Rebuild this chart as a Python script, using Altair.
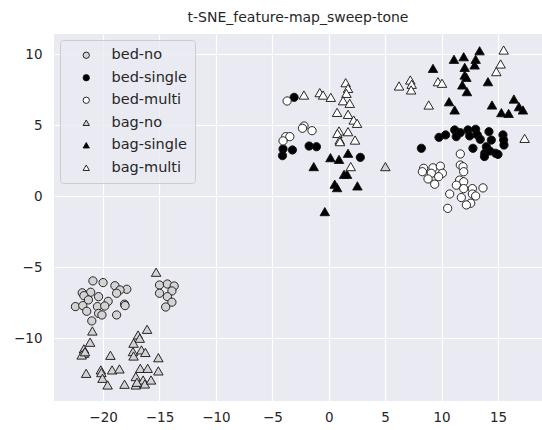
import altair as alt
import pandas as pd

# ---- data ----
bed_no_x = [-20.9, -20.0, -18.95, -17.9, -18.5, -21.85, -21.1, -21.7, -20.4, -21.3, -19.55, -18.8,
            -22.45, -21.8, -20.5, -19.85, -18.1, -18.05, -21.45, -20.4, -20.1, -18.8, -21.0,
            -15.0, -14.3, -13.7, -15.0, -13.9, -14.3, -13.9, -14.45]
bed_no_y = [-5.96, -6.08, -6.3, -6.55, -6.6, -6.8, -6.76, -7.0, -7.07, -7.3, -7.4, -6.83,
            -7.77, -7.7, -7.77, -7.73, -7.6, -7.7, -8.1, -8.25, -8.36, -8.36, -8.78,
            -6.25, -6.18, -6.32, -6.83, -6.67, -7.07, -7.46, -7.8]

bed_single_x = [-3.07, -4.05, -3.22, -4.1, -1.74, -1.09, 2.8,
                8.21, 9.77, 10.36, 11.16, 11.3, 11.66, 12.34, 12.49, 13.02, 13.17, 13.43, 14.2,
                14.41, 15.44, 15.5, 15.53, 12.78, 13.97, 13.83, 14.27, 14.79, 15.0, 13.8]
bed_single_y = [6.97, 3.33, 3.26, 2.86, 3.54, 3.49, 2.74,
                3.38, 4.15, 4.32, 4.67, 4.2, 4.48, 4.67, 4.25, 4.72, 4.32, 4.01, 4.55,
                3.96, 4.32, 3.96, 3.61, 3.38, 3.49, 3.03, 3.19, 3.03, 2.95, 2.8]

bed_multi_x = [-3.69, -2.19, -2.33, -1.48, -3.81, -3.45, -4.05,
               11.66, 11.66, 11.9, 11.96, 8.41, 8.3, 9.24, 9.89, 9.09, 10.07, 8.8, 9.74, 9.39,
               11.6, 11.96, 11.31, 11.96, 12.73, 13.67, 12.73, 13.02, 10.72, 11.75, 12.58, 12.2, 10.54]
bed_multi_y = [6.71, 4.95, 4.79, 4.62, 4.2, 4.2, 3.9,
               2.98, 2.2, 2.08, 1.73, 1.97, 1.73, 2.0, 2.12, 1.62, 1.62, 1.22, 1.38, 0.85,
               1.14, 1.02, 0.78, 0.54, 0.54, 0.59, 0.16, 0.02, 0.16, -0.09, -0.49, -0.61, -0.85]

bag_no_x = [-15.3, -20.95, -16.1, -16.9, -16.75, -17.3, -21.15, -21.7, -21.7, -21.9, -21.6,
            -19.35, -17.35, -17.3, -16.6, -16.25, -15.1, -21.5, -20.2, -20.15, -19.2, -18.55,
            -20.05, -19.6, -18.1, -17.1, -17.1, -16.7, -16.05, -15.1, -16.45, -16.3, -15.75, -17.0,
            5.02]
bag_no_y = [-5.35, -9.49, -9.37, -9.77, -10.0, -10.35, -10.28, -10.75, -11.06, -11.18, -10.95,
            -11.2, -10.94, -11.25, -10.82, -11.0, -11.37, -12.47, -12.23, -12.42, -12.23, -12.16,
            -12.82, -13.29, -13.24, -12.7, -13.29, -12.12, -12.12, -12.3, -12.94, -13.22, -12.94, -13.1,
            2.09]

bag_single_x = [-1.33, 0.15, 0.91, 1.71, 1.36, 1.62, 0.53, 0.74, 2.54, -0.35,
                9.24, 11.1, 11.96, 13.37, 13.02, 12.93, 12.05, 12.05, 12.2, 11.84, 12.25, 14.11,
                10.66, 11.16, 14.47, 16.41, 16.86, 17.21, 15.3, 15.94]
bag_single_y = [2.09, 2.72, 2.6, 3.03, 1.55, 1.55, 0.85, 0.61, 0.73, -1.08,
                9.01, 9.65, 9.83, 10.25, 9.65, 9.25, 9.08, 8.54, 8.38, 7.84, 7.37, 8.07,
                6.66, 6.08, 6.43, 6.85, 6.31, 6.08, 5.89, 5.84]

bag_multi_x = [-2.2, -0.8, -0.5, 0.18, 1.5, 1.71, 1.57, 1.27, 1.86, 0.74, 1.71, 2.21, 2.51,
               0.91, 1.71, 0.77, 0.97, 1.0, 2.33, 1.95,
               15.5, 15.23, 14.85, 6.23, 7.23, 7.35, 7.3, 9.68, 10.04, 8.86, 17.36]
bag_multi_y = [7.13, 7.3, 7.13, 6.97, 8.0, 7.6, 7.25, 6.73, 6.55, 5.91, 5.77, 5.37, 5.14,
               4.6, 4.55, 4.43, 3.96, 3.85, 3.96, 2.09,
               10.3, 9.32, 8.78, 7.77, 8.19, 7.89, 7.49, 8.07, 7.96, 6.43, 4.08]

groups = ["bed-no", "bed-single", "bed-multi", "bag-no", "bag-single", "bag-multi"]
fills = ["#D3D3D3", "#000000", "#FFFFFF", "#D3D3D3", "#000000", "#FFFFFF"]
shapes = ["circle", "circle", "circle", "triangle-up", "triangle-up", "triangle-up"]
strokes = ["#111111"] * 6
x_ticks = [-20, -15, -10, -5, 0, 5, 10, 15]
y_ticks = [-10, -5, 0, 5, 10]

series = [
    (bed_no_x, bed_no_y), (bed_single_x, bed_single_y), (bed_multi_x, bed_multi_y),
    (bag_no_x, bag_no_y), (bag_single_x, bag_single_y), (bag_multi_x, bag_multi_y),
]
rows = []
for g, (xs, ys) in zip(groups, series):
    for a, b in zip(xs, ys):
        rows.append({"x": a, "y": b, "group": g, "order": groups.index(g)})
df = pd.DataFrame(rows)

FONT = "DejaVu Sans"
TXT = "#262626"

base = alt.Chart(df).encode(
    x=alt.X("x:Q", scale=alt.Scale(domain=[-24.35, 18.9], nice=False, zero=False),
            axis=alt.Axis(values=x_ticks, title=None)),
    y=alt.Y("y:Q", scale=alt.Scale(domain=[-14.42, 11.43], nice=False, zero=False),
            axis=alt.Axis(values=y_ticks, title=None)),
    fill=alt.Fill("group:N", scale=alt.Scale(domain=groups, range=fills),
                  legend=alt.Legend(title=None)),
    shape=alt.Shape("group:N", scale=alt.Scale(domain=groups, range=shapes),
                    legend=alt.Legend(title=None)),
    stroke=alt.Stroke("group:N", scale=alt.Scale(domain=groups, range=strokes),
                      legend=alt.Legend(title=None)),
    order=alt.Order("order:Q"),
)

circles = base.transform_filter(alt.datum.order < 3).mark_point(
    filled=True, size=68, strokeWidth=0.9, opacity=1
)
tris = base.transform_filter(alt.datum.order >= 3).mark_point(
    filled=True, size=90, strokeWidth=0.9, opacity=1
)

chart = alt.layer(circles, tris).properties(
    width=488, height=367,
    title=alt.TitleParams("t-SNE_feature-map_sweep-tone", font=FONT, fontSize=14,
                          fontWeight="normal", color=TXT, offset=9),
    padding={"left": 54, "top": 34, "right": 0, "bottom": 29},
    autosize=alt.AutoSizeParams(type="none"),
    background="white",
).configure_view(
    fill="#EAEAF2", stroke=None
).configure_axis(
    grid=True, gridColor="white", gridWidth=1.2, domain=False, ticks=False,
    labelFont=FONT, labelFontSize=13.5, labelColor=TXT,
).configure_axisX(labelPadding=9).configure_axisY(labelPadding=12).configure_legend(
    orient="none", legendX=6, legendY=6,
    fillColor="rgba(234,234,242,0.8)", strokeColor="#CCCCCC", cornerRadius=3,
    padding=8, symbolOffset=11, labelOffset=18, rowPadding=7.5,
    labelFont=FONT, labelFontSize=14.5, labelColor=TXT,
    symbolSize=40, symbolStrokeWidth=0.9,
)

chart.save("out.html", embed_options={"renderer": "svg", "actions": False})
